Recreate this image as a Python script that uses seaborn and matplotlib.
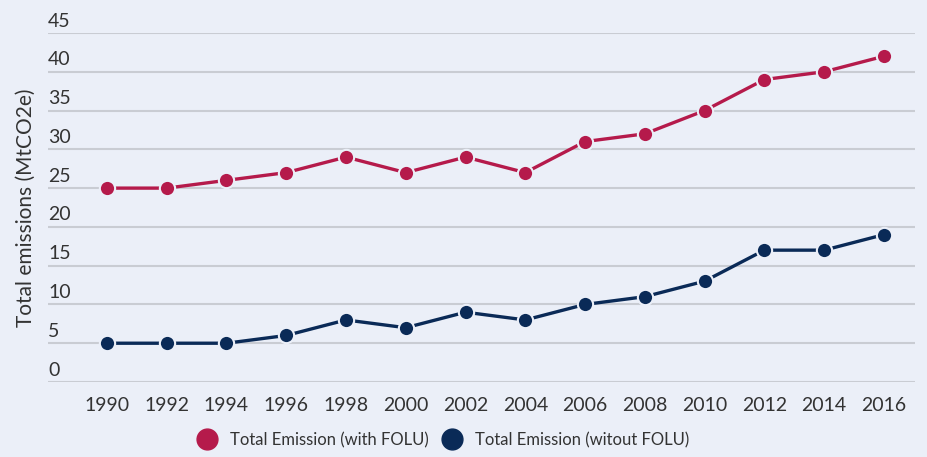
import matplotlib
matplotlib.use("Agg")
import matplotlib.pyplot as plt
import matplotlib.transforms as mtransforms
from matplotlib.lines import Line2D
import seaborn as sns
import pandas as pd

years = [1990, 1992, 1994, 1996, 1998, 2000, 2002, 2004, 2006, 2008, 2010, 2012, 2014, 2016]
with_folu = [25, 25, 26, 27, 29, 27, 29, 27, 31, 32, 35, 39, 40, 42]
without_folu = [5, 5, 5, 6, 8, 7, 9, 8, 10, 11, 13, 17, 17, 19]
series_names = ["Total Emission (with FOLU)", "Total Emission (witout FOLU)"]
y_ticks = [0, 5, 10, 15, 20, 25, 30, 35, 40, 45]
y_label = "Total emissions (MtCO2e)"

BG = "#ebeff8"
RED = "#b51a4b"
NAVY = "#0a2a57"
GRID = "#c9ccd3"
TEXT = "#333333"

sns.set_theme(style="white")
plt.rcParams["font.family"] = ["Lato", "DejaVu Sans"]

df = pd.DataFrame({
    "year": years * 2,
    "value": with_folu + without_folu,
    "series": [series_names[0]] * len(years) + [series_names[1]] * len(years),
})

fig = plt.figure(figsize=(9.28, 4.57), dpi=100, facecolor=BG)
ax = fig.add_axes([48 / 928, 1 - 382 / 457, (915 - 48) / 928, (382 - 33) / 457])
ax.set_facecolor(BG)

palette = {series_names[0]: RED, series_names[1]: NAVY}
sns.lineplot(data=df, x="year", y="value", hue="series", palette=palette,
             marker="o", markersize=11, markeredgecolor=BG, markeredgewidth=1.5,
             linewidth=2.4, ax=ax, legend=False, zorder=3)

ax.set_xlim(1988.03, 2017.04)
ax.set_ylim(0, 45)
ax.set_xticks(years)
ax.set_xticklabels([str(y) for y in years])
ax.set_yticks(y_ticks)
ax.set_yticklabels([str(v) for v in y_ticks])
ax.grid(axis="y", color=GRID, linewidth=1.5, zorder=0)
ax.grid(axis="x", visible=False)
for s in ax.spines.values():
    s.set_visible(False)

ax.tick_params(axis="x", length=0, pad=11, labelsize=14, labelcolor=TEXT)
ax.tick_params(axis="y", length=0, pad=0, labelsize=14, labelcolor=TEXT)
offset = mtransforms.ScaledTranslation(0, 2.5 / 72, fig.dpi_scale_trans)
for lab in ax.get_yticklabels():
    lab.set_horizontalalignment("left")
    lab.set_verticalalignment("bottom")
    lab.set_transform(lab.get_transform() + offset)

ax.set_xlabel("")
ax.set_ylabel(y_label, fontsize=15, color=TEXT)
ax.yaxis.set_label_coords(-0.014, 0.5)

handles = [Line2D([], [], marker="o", linestyle="none", markersize=15, color=RED),
           Line2D([], [], marker="o", linestyle="none", markersize=15, color=NAVY)]
leg = fig.legend(handles, series_names, loc="center", bbox_to_anchor=(444 / 928, 1 - 440 / 457),
                 ncol=2, frameon=False, fontsize=12.0, handlelength=1.0, handletextpad=0.9,
                 columnspacing=0.9)
for t in leg.get_texts():
    t.set_color(TEXT)

fig.savefig("out.png", dpi=100, facecolor=BG)
